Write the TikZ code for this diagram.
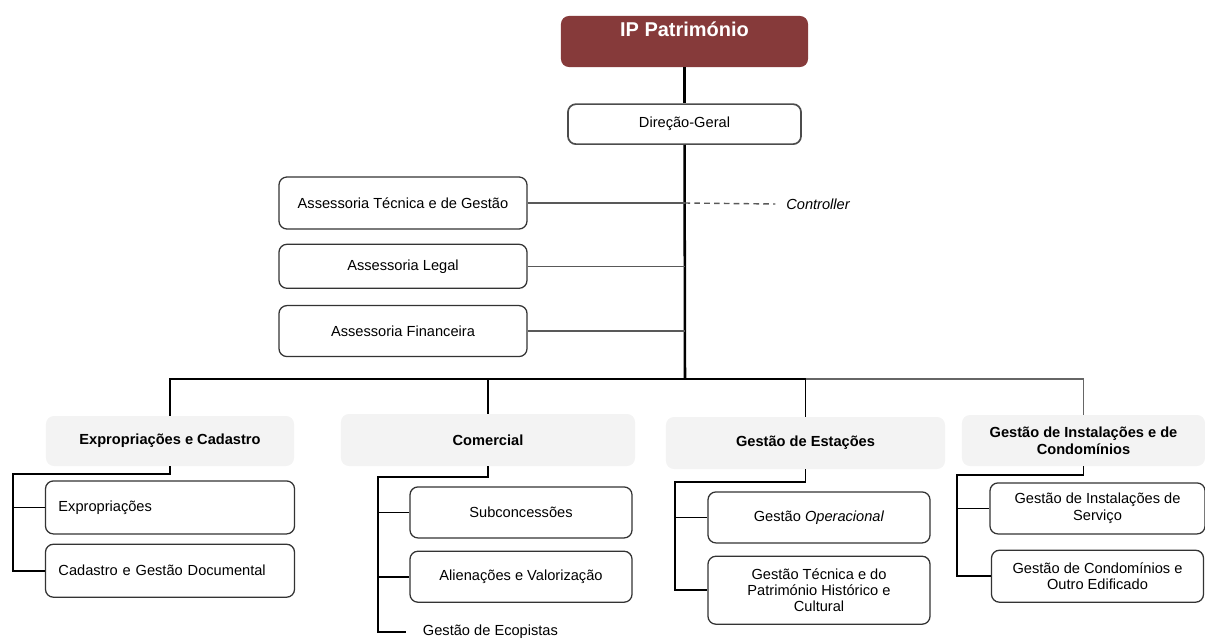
\documentclass[tikz,border=0pt]{standalone}
\usepackage{fontspec}
\setmainfont{Liberation Sans}
\usepackage{xcolor}
\usetikzlibrary{positioning,calc}
\definecolor{ipred}{RGB}{134,58,58}
\definecolor{headgray}{RGB}{243,243,243}

\begin{document}
\begin{tikzpicture}[
    x=0.025cm, y=0.025cm,
    font=\fontsize{10.4}{12}\selectfont,
    top/.style={rectangle, fill=ipred, rounded corners=0.2cm, inner sep=0pt, minimum width=6.175cm, text height=0.5cm, text depth=0.775cm, text=white, font=\fontsize{14.2}{16}\selectfont\bfseries},
    unit/.style={rectangle, draw=black!80, line width=0.9pt, rounded corners=0.2cm, align=center, inner sep=0pt},
    head/.style={rectangle, fill=headgray, rounded corners=0.2cm, align=center, inner sep=0pt, font=\fontsize{10.4}{12}\selectfont\bfseries},
    trunk/.style={line width=1.8pt},
    link/.style={line width=1.3pt},
    aux/.style={line width=1pt, black!65}
]
\useasboundingbox (0,0) rectangle (1205,-640);

% Nodes
\node[top] (ip) at (684.5,-41.5) {IP Património};
\node[unit, below=0.9cm of ip, minimum width=5.825cm, minimum height=1cm, draw=black!70, line width=1.2pt] (dg) {Direção-Geral};

\node[unit, minimum width=6.2cm, minimum height=1.3cm] (atg) at (403,-203) {Assessoria Técnica e de Gestão};
\node[unit, below=0.35cm of atg, minimum width=6.2cm, minimum height=1.1cm] (al) {Assessoria Legal};
\node[unit, below=0.4cm of al, minimum width=6.2cm, minimum height=1.275cm] (af) {Assessoria Financeira};
\node[font=\fontsize{10.4}{12}\selectfont\itshape] (ctrl) at (818,-204) {Controller};

\node[head, minimum width=6.2cm, minimum height=1.25cm] (exp) at (170,-441) {Expropriações e Cadastro};
\node[head, minimum width=7.35cm, minimum height=1.3cm] (com) at (488,-440) {Comercial};
\node[head, minimum width=6.975cm, minimum height=1.3cm] (est) at (805.5,-443) {Gestão de Estações};
\node[head, minimum width=6.075cm, minimum height=1.275cm] (inst) at (1083.5,-440.5) {Gestão de Instalações e de\\Condomínios};

\node[unit, below=0.35cm of exp, text width=5.575cm, inner xsep=0.325cm, align=left, minimum height=1.325cm] (exp1) {Expropriações};
\node[unit, below=0.225cm of exp1, text width=5.575cm, inner xsep=0.325cm, align=left, minimum height=1.325cm] (exp2) {Cadastro e Gestão Documental};

\node[unit, below=0.5cm of com, xshift=0.825cm, minimum width=5.55cm, minimum height=1.275cm] (com1) {Subconcessões};
\node[unit, below=0.3cm of com1, minimum width=5.55cm, minimum height=1.275cm] (com2) {Alienações e Valorização};
\node[anchor=west] (eco) at (418,-632) {Gestão de Ecopistas};

\node[unit, below=0.55cm of est, xshift=0.3375cm, minimum width=5.55cm, minimum height=1.275cm] (est1) {Gestão \textit{Operacional}};
\node[unit, below=0.3cm of est1, minimum width=5.55cm, minimum height=1.7cm, font=\fontsize{10.4}{11.4}\selectfont] (est2) {Gestão Técnica e do\\Património Histórico e\\Cultural};

\node[unit, below=0.4cm of inst, xshift=0.35cm, minimum width=5.375cm, minimum height=1.275cm] (inst1) {Gestão de Instalações de\\Serviço};
\node[unit, below=0.375cm of inst1, minimum width=5.3cm, minimum height=1.3cm] (inst2) {Gestão de Condomínios e\\Outro Edificado};

% Lines
\coordinate (bus) at (685,-379);
\draw[trunk] (ip) -- (dg);
\draw[trunk] (dg) -- (bus);
\draw[aux] (atg.east) -- (atg.east -| dg.south);
\draw[aux] (al.east) -- (al.east -| dg.south);
\draw[aux] (af.east) -- (af.east -| dg.south);
\draw[aux, dash pattern=on 4pt off 3pt] (atg.east -| dg.south) -- ([xshift=-0.15cm]ctrl.west);

\draw[link] (exp.north) |- (bus);
\draw[link] (com.north) -- (com.north |- bus);
\draw[link] (bus) -| (est.north);
\draw[link, black!60] (est.north |- bus) -| (inst.north);

\coordinate (expk) at (13,-474);
\draw[link] (exp.south) |- (expk) |- (exp2.west);
\draw[link] (expk |- exp1.west) -- (exp1.west);

\coordinate (comk) at (378,-477);
\draw[link] (com.south) |- (comk) |- ([xshift=-0.3cm]eco.west);
\draw[link] (comk |- com1.west) -- (com1.west);
\draw[link] (comk |- com2.west) -- (com2.west);

\coordinate (estk) at (675,-482);
\draw[link] (est.south) |- (estk) |- (est2.west);
\draw[link] (estk |- est1.west) -- (est1.west);

\coordinate (instk) at (957,-475);
\draw[link] (inst.south) |- (instk) |- (inst2.west);
\draw[link] (instk |- inst1.west) -- (inst1.west);

\end{tikzpicture}
\end{document}
